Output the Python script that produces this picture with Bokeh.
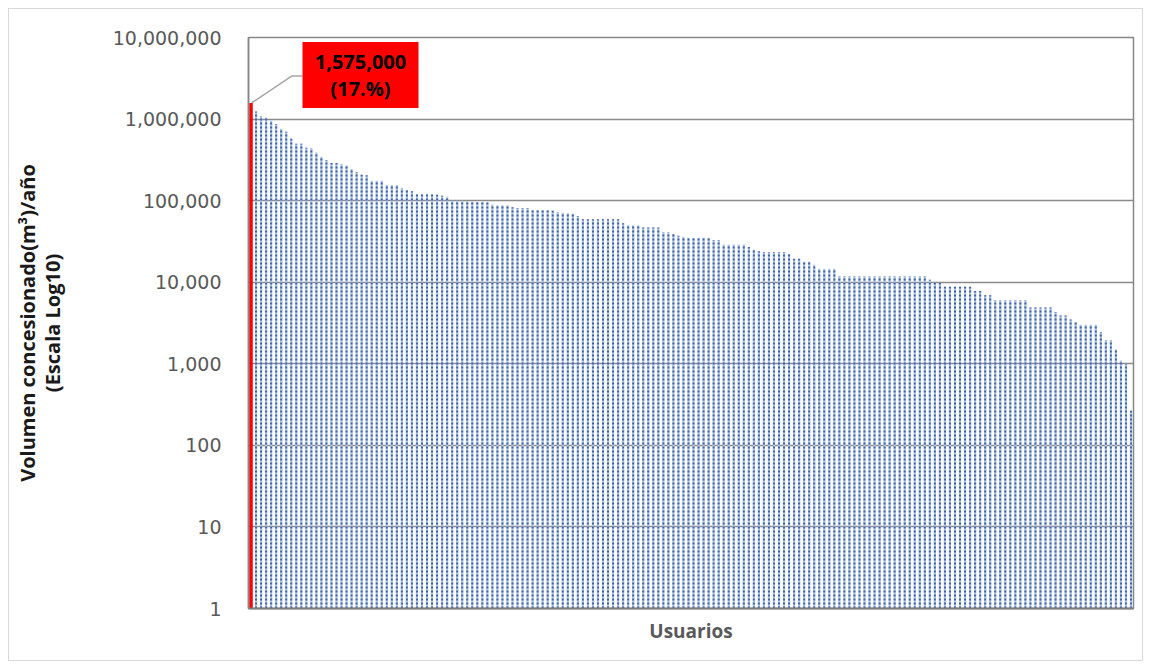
import math
from bokeh.plotting import figure
from bokeh.layouts import column
from bokeh.models import Range1d, FixedTicker, NumeralTickFormatter, ColumnDataSource
from bokeh.core.properties import value
from bokeh.embed import file_html
from bokeh.resources import INLINE

# Volumen concesionado por usuario, ordenado de mayor a menor (m3/año)
volumes = [
    1575000, 1240000, 1080000, 1040000, 960000, 870000, 760000, 700000, 575000, 500000,
    500000, 445000, 440000, 390000, 345000, 315000, 290000, 290000, 280000, 270000,
    245000, 225000, 208000, 205000, 175000, 175000, 175000, 155000, 155000, 155000,
    142000, 135000, 130000, 120000, 120000, 120000, 120000, 118000, 115000, 112000,
    102000, 100000, 100000, 98000, 97000, 96000, 96000, 95000, 90000, 88000,
    88000, 88000, 83000, 81000, 81000, 81000, 76000, 76000, 76000, 76000,
    75000, 72000, 71000, 70000, 69000, 65000, 59000, 59000, 59000, 59000,
    59000, 59000, 59000, 59000, 53000, 50000, 50000, 50000, 47000, 47000,
    47000, 47000, 41000, 41000, 39000, 37000, 36000, 35000, 35000, 35000,
    35000, 35000, 33000, 33000, 29000, 29000, 29000, 29000, 29000, 27000,
    25000, 24000, 23500, 23500, 23500, 23500, 23500, 22400, 19400, 19400,
    17800, 17800, 16400, 14600, 14600, 14600, 14600, 11800, 11800, 11800,
    11800, 11800, 11800, 11800, 11800, 11800, 11800, 11800, 11800, 11800,
    11800, 11800, 11800, 11800, 11800, 10700, 10000, 9800, 8800, 8800,
    8800, 8800, 8800, 8800, 7800, 7800, 6900, 6900, 6000, 6000,
    6000, 6000, 6000, 6000, 6000, 4900, 4900, 4900, 4900, 4900,
    4300, 3900, 3900, 3500, 3200, 3000, 3000, 3000, 3000, 2450,
    1950, 1950, 1500, 1100, 1000, 265,
]
top_share = "17.%"
y_ticks = [1, 10, 100, 1000, 10000, 100000, 1000000, 10000000]

n = len(volumes)
users = list(range(n))

# chart area sits inside a thin light frame, 8 px from the page edge
W, H = 1133, 651
LEFT, RIGHT, TOP, BOTTOM = 239, 9, 28, 52
frame_w = W - LEFT - RIGHT
frame_h = H - TOP - BOTTOM
band_px = frame_w / n
decade_px = frame_h / math.log10(y_ticks[-1] / y_ticks[0])

p = figure(
    width=W, height=H,
    y_axis_type="log",
    x_range=Range1d(-0.5, n - 0.5),
    y_range=Range1d(y_ticks[0], y_ticks[-1]),
    output_backend="svg", toolbar_location=None,
    min_border_left=LEFT, min_border_right=RIGHT,
    min_border_top=TOP, min_border_bottom=BOTTOM,
)
p.background_fill_color = "white"
p.border_fill_color = "white"
p.outline_line_color = "#868686"
p.outline_line_width = 1.5

# grid
p.xgrid.visible = False
p.ygrid.ticker = FixedTicker(ticks=y_ticks)
p.ygrid.grid_line_color = "#8a8a8a"
p.ygrid.grid_line_width = 1.5

# y axis
p.yaxis.ticker = FixedTicker(ticks=y_ticks, minor_ticks=[])
p.yaxis.formatter = NumeralTickFormatter(format="0,0")
p.yaxis.major_tick_line_color = None
p.yaxis.minor_tick_line_color = None
p.yaxis.axis_line_color = "#868686"
p.yaxis.axis_line_width = 1.5
p.yaxis.major_label_standoff = 21
p.yaxis.major_label_text_font = "DejaVu Sans"
p.yaxis.major_label_text_font_size = "19px"
p.yaxis.major_label_text_color = "#595959"
p.yaxis.axis_label = "Volumen concesionado(m³)/año\n(Escala Log10)"
p.yaxis.axis_label_text_font = "Open Sans"
p.yaxis.axis_label_text_font_style = "bold"
p.yaxis.axis_label_text_font_size = "20px"
p.yaxis.axis_label_text_color = "#1a1a1a"
p.yaxis.axis_label_text_line_height = 0.9
p.yaxis.axis_label_standoff = 44

# x axis
p.xaxis.ticker = FixedTicker(ticks=[])
p.xaxis.major_label_text_font_size = "0px"
p.xaxis.major_tick_line_color = None
p.xaxis.minor_tick_line_color = None
p.xaxis.axis_line_color = "#7f7f7f"
p.xaxis.axis_line_width = 2
p.xaxis.axis_label = "Usuarios"
p.xaxis.axis_label_text_font = "Open Sans"
p.xaxis.axis_label_text_font_style = "bold"
p.xaxis.axis_label_text_font_size = "19px"
p.xaxis.axis_label_text_color = "#595959"
p.xaxis.axis_label_standoff = 9

# the remaining users: light column with a dotted darker core
rest = ColumnDataSource(dict(x=users[1:], v=volumes[1:], b=[1] * (n - 1)))
p.vbar(x="x", top="v", bottom="b", width=0.45, source=rest,
       fill_color="#b3c6e8", line_color=None)
p.segment(x0="x", y0="b", x1="x", y1="v", source=rest,
          line_color="#3e64aa", line_width=2, line_dash="2 2")

# largest user highlighted
p.vbar(x=[users[0]], top=[volumes[0]], bottom=[1], width=0.7,
       fill_color="#ff0000", line_color=None)

# callout for the largest user
x0, v0 = users[0], volumes[0]
def dx(px):
    return px / band_px
def fy(px):
    return 10 ** (px / decade_px)

box_l, box_r = x0 + dx(51.5), x0 + dx(167.5)
box_t, box_b = v0 * fy(61), v0 * fy(-5)
p.line(x=[x0 + dx(0.5), x0 + dx(41), box_l], y=[v0, v0 * fy(27), v0 * fy(27)],
       line_color="#a6a6a6", line_width=1.5)
p.quad(left=[box_l], right=[box_r], top=[box_t], bottom=[box_b],
       fill_color="#ff0000", line_color=None)
p.text(x=[(box_l + box_r) / 2], y=[math.sqrt(box_t * box_b)],
       text=[f"{v0:,}\n({top_share})"],
       text_align="center", text_baseline="middle",
       text_font=value("Open Sans"), text_font_style="bold",
       text_font_size="20px", text_color="#000000", text_line_height=0.98)

chart = column(p, styles={"border": "1px solid #d9d9d9", "margin": "8px"})

open("out.html", "w").write(file_html(chart, INLINE))
